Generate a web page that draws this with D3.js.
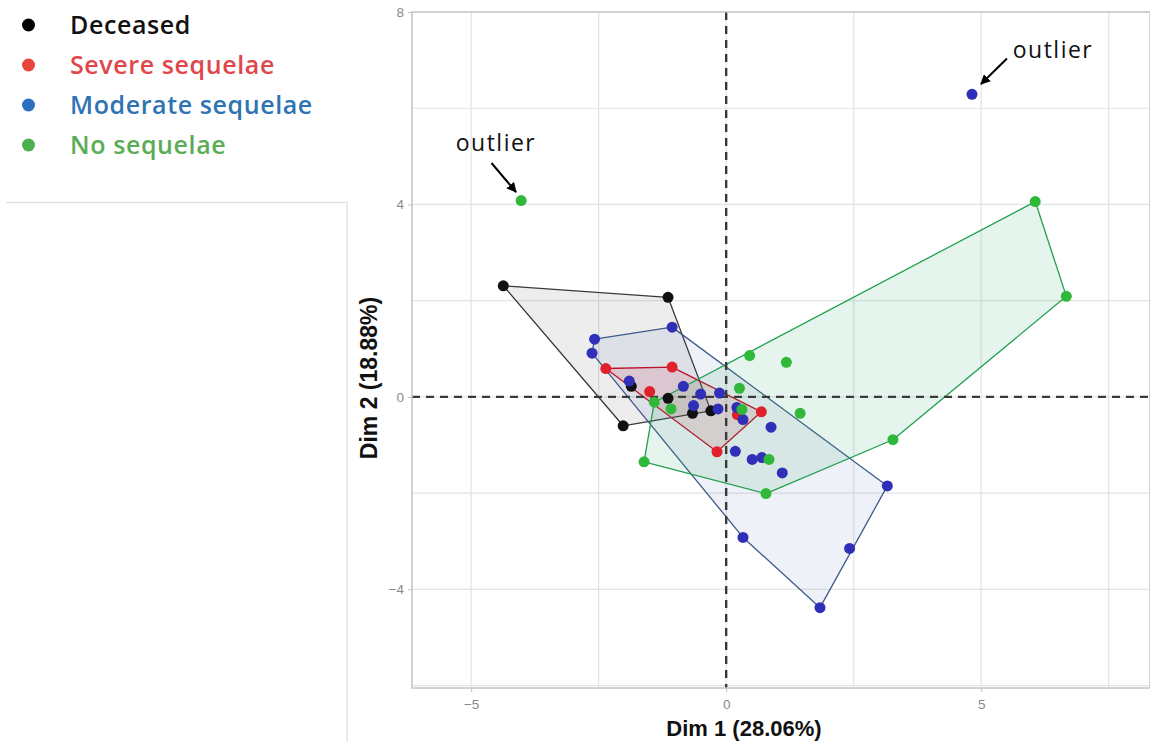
<!DOCTYPE html>
<html>
<head>
<meta charset="utf-8">
<script src="https://cdn.jsdelivr.net/npm/d3@7"></script>
<style>
  html, body { margin: 0; padding: 0; background: #fff; }
  svg { display: block; }
</style>
</head>
<body>
<svg id="chart" width="1150" height="742"></svg>
<script>
// ---------- DATA ----------
const categories = ["Deceased", "Severe sequelae", "Moderate sequelae", "No sequelae"];

const deceasedX = [-4.37, -1.14, -2.02, -1.86, -1.14, -0.66, -0.30];
const deceasedY = [ 2.31,  2.07, -0.60,  0.22, -0.03, -0.34, -0.29];

const severeX = [-2.36, -1.06, -1.50, 0.69, 0.22, -0.18];
const severeY = [ 0.59,  0.62,  0.11, -0.31, -0.37, -1.14];

const moderateX = [-2.58, -2.63, -1.06, -1.90, -0.84, -0.50, -0.13, -0.64, -0.16, 0.21, 0.33, 0.88, 0.18, 0.51, 0.70, 1.10, 3.16, 2.42, 1.84, 0.33];
const moderateY = [ 1.20,  0.91,  1.45,  0.33,  0.22,  0.06,  0.08, -0.18, -0.25, -0.22, -0.47, -0.63, -1.13, -1.30, -1.26, -1.58, -1.85, -3.15, -4.38, -2.92];

const noSeqX = [6.06, 6.67, 3.27, 0.78, -1.61, 0.46, 1.18, 1.45, 0.26, -1.41, -1.08, 0.31, 0.84];
const noSeqY = [4.06, 2.09, -0.89, -2.01, -1.35, 0.86, 0.72, -0.34, 0.18, -0.11, -0.25, -0.26, -1.30];

// outliers (not part of the convex hulls)
const outlierGroup = ["No sequelae", "Moderate sequelae"];
const outlierX = [-4.02, 4.82];
const outlierY = [ 4.08, 6.29];
const outlierLabel = ["outlier", "outlier"];

const xTicks = [-5, 0, 5];
const yTicks = [-4, 0, 4, 8];
const xMinor = [-2.5, 2.5, 7.5];
const yMinor = [-6, -2, 2, 6];
const xTitle = "Dim 1 (28.06%)";
const yTitle = "Dim 2 (18.88%)";

// ---------- STYLE ----------
const pointColor = {"Deceased": "#111111", "Severe sequelae": "#e0202a", "Moderate sequelae": "#2f2fb8", "No sequelae": "#2fb83a"};
const hullStroke = {"Deceased": "#3a3a3a", "Severe sequelae": "#c8101e", "Moderate sequelae": "#3d5a88", "No sequelae": "#20a050"};
const hullFill = {"Deceased": "#000000", "Severe sequelae": "#e31a1c", "Moderate sequelae": "#3050b0", "No sequelae": "#2ca25f"};
const hullOpacity = {"Deceased": 0.07, "Severe sequelae": 0.13, "Moderate sequelae": 0.08, "No sequelae": 0.12};
const legendDot = {"Deceased": "#000000", "Severe sequelae": "#e8453c", "Moderate sequelae": "#2e6fbf", "No sequelae": "#4caf50"};
const legendText = {"Deceased": "#111111", "Severe sequelae": "#e0474c", "Moderate sequelae": "#2e74b5", "No sequelae": "#5aad55"};

const groups = [
  {name: categories[0], xs: deceasedX, ys: deceasedY},
  {name: categories[1], xs: severeX, ys: severeY},
  {name: categories[2], xs: moderateX, ys: moderateY},
  {name: categories[3], xs: noSeqX, ys: noSeqY}
];

const svg = d3.select("#chart");
const P = {left: 412, right: 1150, top: 12, bottom: 688};

const x = d3.scaleLinear().domain([-6.16, 8.31]).range([P.left, P.right]);
const y = d3.scaleLinear().domain([-6.05, 8]).range([P.bottom, P.top]);

// panel clip
svg.append("defs").append("clipPath").attr("id", "clip")
  .append("rect").attr("x", P.left).attr("y", P.top)
  .attr("width", P.right - P.left).attr("height", P.bottom - P.top);

const defs = svg.select("defs");
defs.append("marker").attr("id", "arrow").attr("viewBox", "0 0 10 10")
  .attr("refX", 9).attr("refY", 5).attr("markerWidth", 5).attr("markerHeight", 5)
  .attr("orient", "auto-start-reverse").attr("markerUnits", "strokeWidth")
  .append("path").attr("d", "M0,0 L10,5 L0,10 z").attr("fill", "#000");

const panel = svg.append("g").attr("clip-path", "url(#clip)");

// grid
panel.selectAll("line.gx").data(xTicks.concat(xMinor)).join("line")
  .attr("x1", d => x(d)).attr("x2", d => x(d)).attr("y1", P.top).attr("y2", P.bottom)
  .attr("stroke", "#e3e3e3").attr("stroke-width", 1.2);
panel.selectAll("line.gy").data(yTicks.concat(yMinor)).join("line")
  .attr("y1", d => y(d)).attr("y2", d => y(d)).attr("x1", P.left).attr("x2", P.right)
  .attr("stroke", "#e3e3e3").attr("stroke-width", 1.2);

// hulls
groups.forEach(g => {
  const pts = g.xs.map((v, i) => [x(v), y(g.ys[i])]);
  const hull = d3.polygonHull(pts);
  panel.append("path")
    .attr("d", "M" + hull.join("L") + "Z")
    .attr("fill", hullFill[g.name]).attr("fill-opacity", hullOpacity[g.name])
    .attr("stroke", hullStroke[g.name]).attr("stroke-width", 1.3)
    .attr("stroke-linejoin", "round");
});

// reference dashed lines
panel.append("line").attr("x1", x(0)).attr("x2", x(0)).attr("y1", P.top).attr("y2", P.bottom)
  .attr("stroke", "#3a3a3a").attr("stroke-width", 2.4).attr("stroke-dasharray", "8,6");
panel.append("line").attr("y1", y(0)).attr("y2", y(0)).attr("x1", P.left).attr("x2", P.right)
  .attr("stroke", "#3a3a3a").attr("stroke-width", 2.4).attr("stroke-dasharray", "8,6");

// points
groups.forEach(g => {
  panel.selectAll(null).data(g.xs.map((v, i) => [v, g.ys[i]])).join("circle")
    .attr("cx", d => x(d[0])).attr("cy", d => y(d[1])).attr("r", 5.5)
    .attr("fill", pointColor[g.name]);
});
panel.selectAll(null).data(outlierX.map((v, i) => [v, outlierY[i], outlierGroup[i]])).join("circle")
  .attr("cx", d => x(d[0])).attr("cy", d => y(d[1])).attr("r", 5.5)
  .attr("fill", d => pointColor[d[2]]);

// panel border
svg.append("rect").attr("x", P.left).attr("y", P.top)
  .attr("width", P.right - P.left).attr("height", P.bottom - P.top)
  .attr("fill", "none").attr("stroke", "#c4c4c4").attr("stroke-width", 1.5);

// axes
const yAxis = svg.append("g").attr("transform", `translate(${P.left},0)`)
  .call(d3.axisLeft(y).tickValues(yTicks).tickSize(4).tickPadding(4));
const xAxis = svg.append("g").attr("transform", `translate(0,${P.bottom})`)
  .call(d3.axisBottom(x).tickValues(xTicks).tickSize(4).tickPadding(7));
[yAxis, xAxis].forEach(a => {
  a.select(".domain").remove();
  a.selectAll(".tick line").attr("stroke", "#bdbdbd");
  a.selectAll(".tick text").attr("fill", "#8a8a8a")
    .style("font-family", "'Liberation Sans', Arial, sans-serif").style("font-size", "13.5px");
});

// axis titles
svg.append("text").attr("x", 744).attr("y", 736).attr("text-anchor", "middle")
  .style("font-family", "'Liberation Sans', Arial, sans-serif").style("font-weight", "bold")
  .style("font-size", "22px").attr("fill", "#111").text(xTitle);
svg.append("text").attr("transform", "translate(377,378) rotate(-90)").attr("text-anchor", "middle")
  .style("font-family", "'Liberation Sans', Arial, sans-serif").style("font-weight", "bold")
  .style("font-size", "23px").attr("fill", "#111").text(yTitle);

// outlier annotations
const annot = [
  {tx: 496, ty: 151, anchor: "middle", x1: 491.5, y1: 163, x2: 516, y2: 192},
  {tx: 1053, ty: 58, anchor: "middle", x1: 1007, y1: 58.5, x2: 981, y2: 84}
];
annot.forEach((a, i) => {
  svg.append("text").attr("x", a.tx).attr("y", a.ty).attr("text-anchor", a.anchor)
    .style("font-family", "'Open Sans', sans-serif").style("font-size", "23px")
    .style("letter-spacing", "1.5px").attr("fill", "#111").text(outlierLabel[i]);
  svg.append("line").attr("x1", a.x1).attr("y1", a.y1).attr("x2", a.x2).attr("y2", a.y2)
    .attr("stroke", "#000").attr("stroke-width", 2).attr("marker-end", "url(#arrow)");
});

// legend
const leg = svg.append("g");
categories.forEach((c, i) => {
  const cy = 25 + i * 40;
  leg.append("circle").attr("cx", 28.5).attr("cy", cy).attr("r", 6.5).attr("fill", legendDot[c]);
  leg.append("text").attr("x", 70).attr("y", cy + 8.5)
    .style("font-family", "'Open Sans', sans-serif").style("font-size", "25px")
    .style("font-weight", "600").style("letter-spacing", "0.6px")
    .attr("fill", legendText[c]).text(c);
});

// leftover frame lines beside the legend
svg.append("path").attr("d", "M6,202.5 H347 V742")
  .attr("fill", "none").attr("stroke", "#e2e2e2").attr("stroke-width", 1.5);
</script>
</body>
</html>
